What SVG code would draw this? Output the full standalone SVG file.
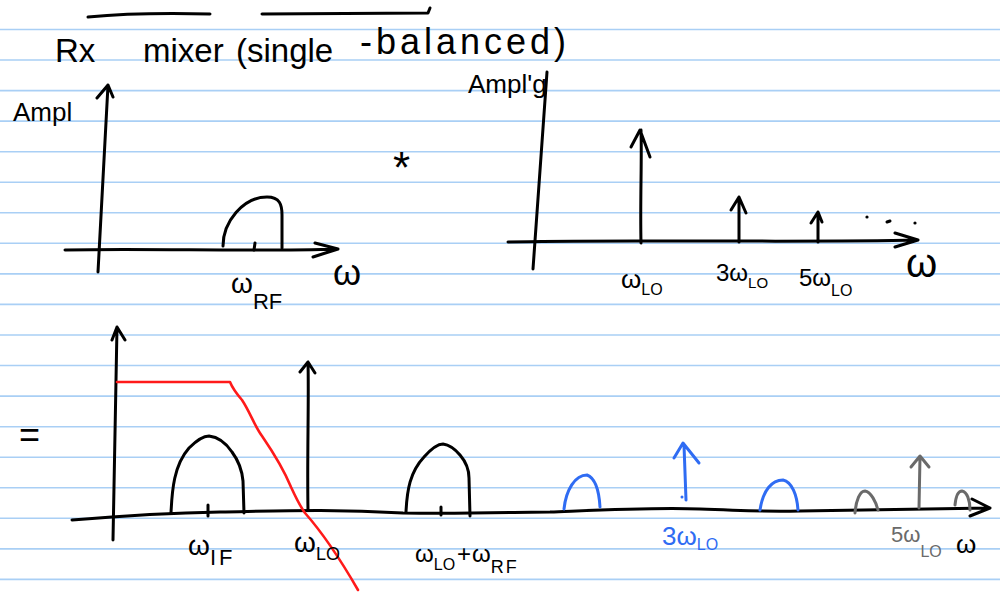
<svg xmlns="http://www.w3.org/2000/svg" width="1000" height="597" viewBox="0 0 1000 597">
<style>
.rule{stroke:#a9cff5;stroke-width:1.6}
.ink{fill:none;stroke:#000;stroke-width:3;stroke-linecap:round;stroke-linejoin:round}
.red{fill:none;stroke:#ff1a1a;stroke-width:2.6;stroke-linecap:round;stroke-linejoin:round}
.blue{fill:none;stroke:#2f6cf3;stroke-width:3;stroke-linecap:round;stroke-linejoin:round}
.gray{fill:none;stroke:#6a6a6a;stroke-width:3;stroke-linecap:round;stroke-linejoin:round}
text{font-family:"Liberation Sans",Arial,sans-serif;fill:#000}
.bt{fill:#2f6cf3}
.gt{fill:#6a6a6a}
</style>
<rect width="1000" height="597" fill="#fff"/>
<g id="paper">
<line class="rule" x1="0" x2="1000" y1="29.5" y2="29.5"/>
<line class="rule" x1="0" x2="1000" y1="60" y2="60"/>
<line class="rule" x1="0" x2="1000" y1="90.6" y2="90.6"/>
<line class="rule" x1="0" x2="1000" y1="121.1" y2="121.1"/>
<line class="rule" x1="0" x2="1000" y1="151.7" y2="151.7"/>
<line class="rule" x1="0" x2="1000" y1="182.2" y2="182.2"/>
<line class="rule" x1="0" x2="1000" y1="212.8" y2="212.8"/>
<line class="rule" x1="0" x2="1000" y1="243.3" y2="243.3"/>
<line class="rule" x1="0" x2="1000" y1="273.9" y2="273.9"/>
<line class="rule" x1="0" x2="1000" y1="304.4" y2="304.4"/>
<line class="rule" x1="0" x2="1000" y1="335" y2="335"/>
<line class="rule" x1="0" x2="1000" y1="365.5" y2="365.5"/>
<line class="rule" x1="0" x2="1000" y1="396.1" y2="396.1"/>
<line class="rule" x1="0" x2="1000" y1="426.7" y2="426.7"/>
<line class="rule" x1="0" x2="1000" y1="457.2" y2="457.2"/>
<line class="rule" x1="0" x2="1000" y1="487.8" y2="487.8"/>
<line class="rule" x1="0" x2="1000" y1="518.3" y2="518.3"/>
<line class="rule" x1="0" x2="1000" y1="548.9" y2="548.9"/>
<line class="rule" x1="0" x2="1000" y1="579.4" y2="579.4"/>
</g>
<g id="title">
<path class="ink" d="M88,17 C130,13 170,13 210,14"/>
<path class="ink" d="M262,14 L428,13 L430,8"/>
<text font-size="33"><tspan x="55" y="62">Rx</tspan><tspan x="143" y="62">mixer</tspan><tspan x="236" y="62">(single</tspan><tspan x="360" y="54" font-size="36" letter-spacing="4">-balanced)</tspan></text>
</g>
<g id="rf-spectrum">
<path class="ink" d="M98,272 L108,85 M97,98 L108,85 L113,97"/>
<path class="ink" d="M65,250 C150,248 250,252 338,249 M315,243 L338,249 L313,257"/>
<path class="ink" d="M223,246 C223,222 243,197 267,197 C280,197 282,205 282,215 L282,248"/>
<path class="ink" d="M255,243 L254,250"/>
<text x="13" y="121" font-size="26">Ampl</text>
<text x="231" y="293" font-size="28">ω<tspan dy="16" font-size="22">RF</tspan></text>
<text x="333" y="285" font-size="36">ω</text>
</g>
<g id="convolution">
<text x="393" y="183" font-size="44">*</text>
</g>
<g id="lo-spectrum">
<path class="ink" d="M533,269 L547,72"/>
<path class="ink" d="M508,242 C600,239 800,243 918,240 M895,233 L918,240 L895,247"/>
<path class="ink" d="M641,243 C640,200 642,160 641,130 M631,147 L640,130 L650,157"/>
<path class="ink" d="M739,242 L739,197 M731,210 L739,197 L746,213"/>
<path class="ink" d="M818,242 L818,212 M811,223 L818,212 L822,222"/>
<circle cx="867" cy="217" r="1.6"/>
<path class="ink" d="M887,222 L890,221" stroke-width="2"/>
<circle cx="915" cy="223" r="1.6"/>
<text x="468" y="93" font-size="26">Ampl'g</text>
<text x="621" y="288" font-size="26">ω<tspan dy="7" font-size="16">LO</tspan></text>
<text x="716" y="281" font-size="24">3ω<tspan dy="7" font-size="15">LO</tspan></text>
<text x="799" y="286" font-size="24">5ω<tspan dy="10" font-size="16">LO</tspan></text>
<text x="906" y="277" font-size="40">ω</text>
</g>
<g id="output-spectrum">
<text x="19" y="447" font-size="36">=</text>
<path class="ink" d="M113,540 L117,327 M112,340 L117,327 L125,340"/>
<path class="ink" d="M72,520 C120,516 165,513 220,512 C280,511 330,509 403,513 C470,514 520,512 550,512 C600,510 657,507 700,509 C740,510 753,512 800,511 C850,510 900,509 990,508 M972,499 L990,508 L970,516"/>
<path class="ink" d="M171,513 C172,490 174,465 189,448 C197,440 203,436 209,436 C218,437 226,443 232,452 C238,460 242,470 243,481 L244,513"/>
<path class="ink" d="M208,505 L208,516"/>
<path class="ink" d="M308,510 C307,460 309,400 308,362 M300,372 L308,362 L315,373"/>
<path class="ink" d="M406,512 C407,490 410,472 424,457 C432,448 438,444 443,444 C450,445 455,449 460,455 C466,462 469,470 469,478 L470,516"/>
<path class="ink" d="M441,507 L441,515"/>
<path class="red" d="M117,382 L230,382 C232,387 236,393 242,400 C250,412 254,425 262,436 C275,455 284,470 291,487 C296,498 300,506 305,513 C320,530 335,550 358,590"/>
<path class="blue" d="M564,509 C566,490 575,475 587,475 C595,478 599,490 600,507"/>
<path class="blue" d="M686,500 L684,445 M674,458 L683,443 L699,463"/>
<circle cx="682" cy="497" r="1.5" fill="#2f6cf3"/>
<path class="blue" d="M760,510 C763,490 772,480 783,480 C792,482 797,495 798,510"/>
<path class="gray" d="M855,513 C856,500 860,491 865,491 C871,492 876,502 878,510"/>
<path class="gray" d="M919,508 L920,457 M911,467 L920,456 L929,467"/>
<path class="gray" d="M955,505 C956,495 958,491 962,491 C967,492 970,500 970,510"/>
<text x="188" y="555" font-size="28">ω<tspan dy="10" font-size="22" letter-spacing="3">IF</tspan></text>
<text x="294" y="552" font-size="28">ω<tspan dy="8" font-size="18">LO</tspan></text>
<text x="415" y="562" font-size="24">ω<tspan dy="8" font-size="16">LO</tspan><tspan dy="-8" font-size="24" dx="2">+</tspan><tspan dx="1">ω</tspan><tspan dy="11" font-size="18" letter-spacing="2">RF</tspan></text>
<text class="bt" x="662" y="545" font-size="26">3ω<tspan dy="5" font-size="16">LO</tspan></text>
<text class="gt" x="891" y="542" font-size="22">5ω<tspan dy="15" font-size="16">LO</tspan></text>
<text x="956" y="553" font-size="26">ω</text>
</g>
</svg>
